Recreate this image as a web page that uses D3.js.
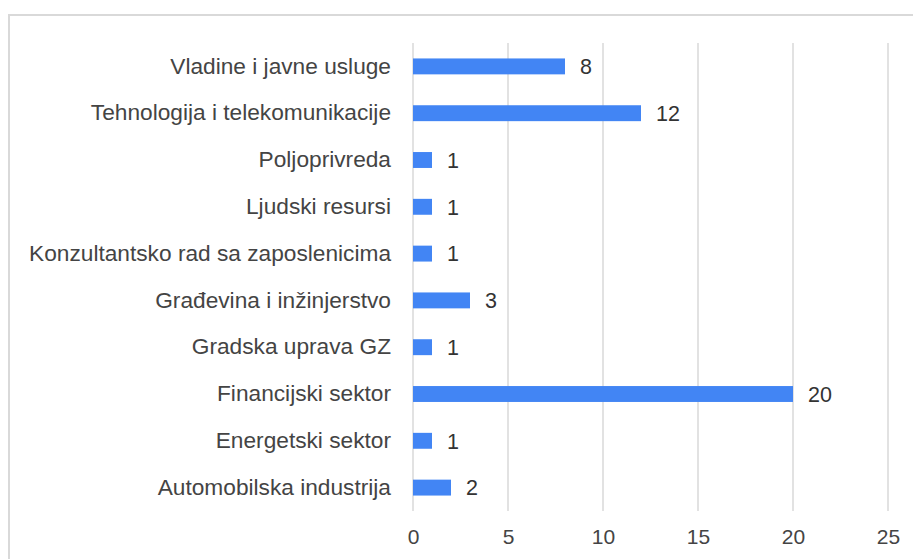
<!DOCTYPE html>
<html>
<head>
<meta charset="utf-8">
<script src="https://cdn.jsdelivr.net/npm/d3@7"></script>
<style>
  body { margin: 0; background: #fff; }
  text { font-family: 'Liberation Sans', Arial, sans-serif; }
</style>
</head>
<body>
<div id="chart"></div>
<script>
var categories = [
  'Vladine i javne usluge',
  'Tehnologija i telekomunikacije',
  'Poljoprivreda',
  'Ljudski resursi',
  'Konzultantsko rad sa zaposlenicima',
  'Građevina i inžinjerstvo',
  'Gradska uprava GZ',
  'Financijski sektor',
  'Energetski sektor',
  'Automobilska industrija'
];
var values = [8, 12, 1, 1, 1, 3, 1, 20, 1, 2];
var ticks = [0, 5, 10, 15, 20, 25];

var w = 913;
var h = 559;

var svg = d3.select('#chart').append('svg').attr('width', w).attr('height', h);

// frame
svg.append('rect')
  .attr('x', 9).attr('y', 15)
  .attr('width', 920).attr('height', 560)
  .attr('fill', 'none')
  .attr('stroke', '#d9d9d9')
  .attr('stroke-width', 2);

var xScale = d3.scaleLinear().domain([0, 25]).range([413, 888]);
var yScale = d3.scaleBand().domain(categories).range([43, 511]).paddingInner(0.66).paddingOuter(0.33);

// gridlines
svg.selectAll('line.grid')
  .data(ticks)
  .enter()
  .append('line')
  .attr('class', 'grid')
  .attr('x1', function(d) { return xScale(d); })
  .attr('x2', function(d) { return xScale(d); })
  .attr('y1', 43)
  .attr('y2', 511)
  .attr('stroke', '#d9d9d9')
  .attr('stroke-width', 1.5);

// x tick labels
var xAxis = d3.axisBottom(xScale).tickValues(ticks).tickSize(0).tickPadding(0);
var gx = svg.append('g').attr('transform', 'translate(0, 529)').call(xAxis);
gx.select('.domain').remove();
gx.selectAll('text')
  .attr('dy', '0.71em')
  .attr('font-size', '21px')
  .attr('fill', '#444')
  .attr('font-family', "'Liberation Sans', Arial, sans-serif");

// y labels
var yAxis = d3.axisLeft(yScale).tickSize(0).tickPadding(0);
var gy = svg.append('g').attr('transform', 'translate(391, 0)').call(yAxis);
gy.select('.domain').remove();
gy.selectAll('text')
  .attr('font-size', '22.7px')
  .attr('fill', '#444')
  .attr('font-family', "'Liberation Sans', Arial, sans-serif");

// bars
svg.selectAll('rect.bar')
  .data(values)
  .enter()
  .append('rect')
  .attr('class', 'bar')
  .attr('x', xScale(0))
  .attr('y', function(d, i) { return yScale(categories[i]); })
  .attr('width', function(d) { return xScale(d) - xScale(0); })
  .attr('height', yScale.bandwidth())
  .attr('fill', '#4285f4');

// value labels
svg.selectAll('text.val')
  .data(values)
  .enter()
  .append('text')
  .attr('class', 'val')
  .text(function(d) { return d; })
  .attr('x', function(d) { return xScale(d) + 15; })
  .attr('y', function(d, i) { return yScale(categories[i]) + yScale.bandwidth() / 2; })
  .attr('dy', '0.36em')
  .attr('font-size', '21.5px')
  .attr('fill', '#333');
</script>
</body>
</html>
